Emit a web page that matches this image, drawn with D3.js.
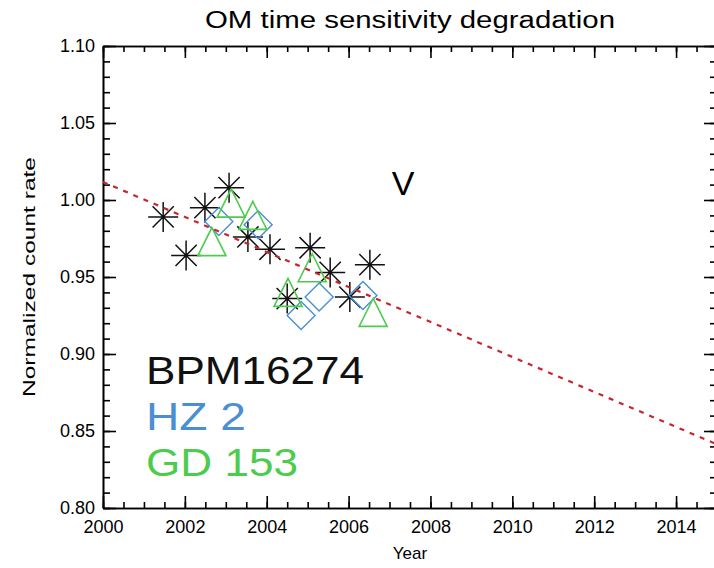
<!DOCTYPE html>
<html>
<head>
<meta charset="utf-8">
<script src="https://cdn.jsdelivr.net/npm/d3@7"></script>
<style>
  body { margin: 0; background: #fff; }
  svg { display: block; font-family: "Liberation Sans", "DejaVu Sans", sans-serif; }
</style>
</head>
<body>
<div id="chart1"></div>
<script>
// BPM16274 (black asterisks)
var bpmYear = [2001.47, 2002.03, 2002.49, 2003.08, 2003.54, 2004.08, 2004.50, 2005.06, 2005.55, 2006.03, 2006.52];
var bpmRate = [0.989, 0.964, 0.995, 1.008, 0.976, 0.968, 0.936, 0.969, 0.953, 0.937, 0.958];
// HZ 2 (blue diamonds)
var hzYear = [2002.83, 2003.79, 2004.84, 2005.28, 2006.35];
var hzRate = [0.986, 0.984, 0.925, 0.937, 0.938];
// GD 153 (green triangles)
var gdYear = [2002.66, 2003.13, 2003.66, 2004.52, 2005.11, 2006.60];
var gdRate = [0.973, 0.998, 0.990, 0.940, 0.956, 0.927];
// linear fit, red dotted
var fitYear = [2000, 2015];
var fitRate = [1.0117, 0.8413];

var yMajor = [0.80, 0.85, 0.90, 0.95, 1.00, 1.05, 1.10];
var xMajor = [2000, 2002, 2004, 2006, 2008, 2010, 2012, 2014];

var legendNames = ["BPM16274", "HZ 2", "GD 153"];
var colBlack = "#111", colBlue = "#4a8fd4", colGreen = "#4ccc4c", colRed = "#c8262a";

var width = 714, height = 568;
var pLeft = 103, pRight = 717, pTop = 46, pBottom = 508;

var x = d3.scaleLinear().domain([2000, 2015]).range([pLeft, pRight]);
var y = d3.scaleLinear().domain([0.80, 1.10]).range([pBottom, pTop]);

var svg = d3.select("#chart1").append("svg")
    .attr("width", width)
    .attr("height", height);

var xMinor = d3.range(2000, 2015.01, 0.5);
var yMinor = d3.range(80, 111).map(function (v) { return v / 100; });

function styleAxis(g) {
    g.selectAll("path, line").attr("stroke", "#000").attr("stroke-width", 1.6);
    g.selectAll("text").attr("fill", "#000").attr("font-size", 18)
        .attr("font-family", "Liberation Sans, DejaVu Sans, sans-serif");
}

// bottom axis
svg.append("g").attr("transform", "translate(0," + pBottom + ")")
    .call(d3.axisBottom(x).tickValues(xMinor).tickSize(-6).tickSizeOuter(0).tickFormat(""))
    .call(styleAxis);
svg.append("g").attr("transform", "translate(0," + pBottom + ")")
    .call(d3.axisBottom(x).tickValues(xMajor).tickSize(-12).tickSizeOuter(0).tickPadding(12).tickFormat(d3.format("d")))
    .call(styleAxis);

// top axis
svg.append("g").attr("transform", "translate(0," + pTop + ")")
    .call(d3.axisTop(x).tickValues(xMinor).tickSize(-6).tickSizeOuter(0).tickFormat(""))
    .call(styleAxis);
svg.append("g").attr("transform", "translate(0," + pTop + ")")
    .call(d3.axisTop(x).tickValues(xMajor).tickSize(-12).tickSizeOuter(0).tickFormat(""))
    .call(styleAxis);

// left axis
svg.append("g").attr("transform", "translate(" + pLeft + ",0)")
    .call(d3.axisLeft(y).tickValues(yMinor).tickSize(-7).tickSizeOuter(0).tickFormat(""))
    .call(styleAxis);
svg.append("g").attr("transform", "translate(" + pLeft + ",0)")
    .call(d3.axisLeft(y).tickValues(yMajor).tickSize(-13).tickSizeOuter(0).tickPadding(8).tickFormat(d3.format(".2f")))
    .call(styleAxis);

// right axis
svg.append("g").attr("transform", "translate(" + pRight + ",0)")
    .call(d3.axisRight(y).tickValues(yMinor).tickSize(-7).tickSizeOuter(0).tickFormat(""))
    .call(styleAxis);
svg.append("g").attr("transform", "translate(" + pRight + ",0)")
    .call(d3.axisRight(y).tickValues(yMajor).tickSize(-13).tickSizeOuter(0).tickFormat(""))
    .call(styleAxis);

// markers
var bpm = bpmYear.map(function (d, i) { return { x: d, y: bpmRate[i] }; });
var hz = hzYear.map(function (d, i) { return { x: d, y: hzRate[i] }; });
var gd = gdYear.map(function (d, i) { return { x: d, y: gdRate[i] }; });

var r = 15, a = r * Math.SQRT1_2;
var asterisk = "M" + (-r) + ",0L" + r + ",0M0," + (-r) + "L0," + r +
    "M" + (-a) + "," + (-a) + "L" + a + "," + a + "M" + (-a) + "," + a + "L" + a + "," + (-a);
var dr = 14;
var diamond = "M0," + (-dr) + "L" + dr + ",0L0," + dr + "L" + (-dr) + ",0Z";
var tr = 14;
var triangle = "M0," + (-tr) + "L" + tr + "," + tr + "L" + (-tr) + "," + tr + "Z";

svg.selectAll(".bpm").data(bpm).enter().append("path")
    .attr("class", "bpm")
    .attr("d", asterisk)
    .attr("transform", function (d) { return "translate(" + x(d.x) + "," + y(d.y) + ")"; })
    .attr("fill", "none").attr("stroke", colBlack).attr("stroke-width", 1.5);

svg.selectAll(".hz").data(hz).enter().append("path")
    .attr("class", "hz")
    .attr("d", diamond)
    .attr("transform", function (d) { return "translate(" + x(d.x) + "," + y(d.y) + ")"; })
    .attr("fill", "none").attr("stroke", colBlue).attr("stroke-width", 1.4);

svg.selectAll(".gd").data(gd).enter().append("path")
    .attr("class", "gd")
    .attr("d", triangle)
    .attr("transform", function (d) { return "translate(" + x(d.x) + "," + y(d.y) + ")"; })
    .attr("fill", "none").attr("stroke", colGreen).attr("stroke-width", 1.6);

// fit line
var line = d3.line().x(function (d) { return x(d[0]); }).y(function (d) { return y(d[1]); });
svg.append("path")
    .datum(fitYear.map(function (d, i) { return [d, fitRate[i]]; }))
    .attr("d", line)
    .attr("fill", "none")
    .attr("stroke", colRed)
    .attr("stroke-width", 2.2)
    .attr("stroke-dasharray", "5,6");

// texts
svg.append("text")
    .attr("x", (pLeft + pRight) / 2).attr("y", 28)
    .attr("text-anchor", "middle")
    .attr("font-size", 23)
    .attr("textLength", 410).attr("lengthAdjust", "spacingAndGlyphs")
    .text("OM time sensitivity degradation");

svg.append("text")
    .attr("x", (pLeft + pRight) / 2).attr("y", 559)
    .attr("text-anchor", "middle")
    .attr("font-size", 17)
    .text("Year");

svg.append("text")
    .attr("transform", "translate(35,277) rotate(-90)")
    .attr("text-anchor", "middle")
    .attr("font-size", 17)
    .attr("textLength", 240).attr("lengthAdjust", "spacingAndGlyphs")
    .text("Normalized count rate");

svg.append("text")
    .attr("x", 403).attr("y", 195)
    .attr("text-anchor", "middle")
    .attr("font-size", 34)
    .text("V");

var legendCols = [colBlack, colBlue, colGreen];
var legendLen = [218, 100, 152];
svg.selectAll(".legend").data(legendNames).enter().append("text")
    .attr("class", "legend")
    .attr("x", 146)
    .attr("y", function (d, i) { return 384 + i * 46; })
    .attr("font-size", 38)
    .attr("fill", function (d, i) { return legendCols[i]; })
    .attr("textLength", function (d, i) { return legendLen[i]; })
    .attr("lengthAdjust", "spacingAndGlyphs")
    .text(function (d) { return d; });
</script>
</body>
</html>
